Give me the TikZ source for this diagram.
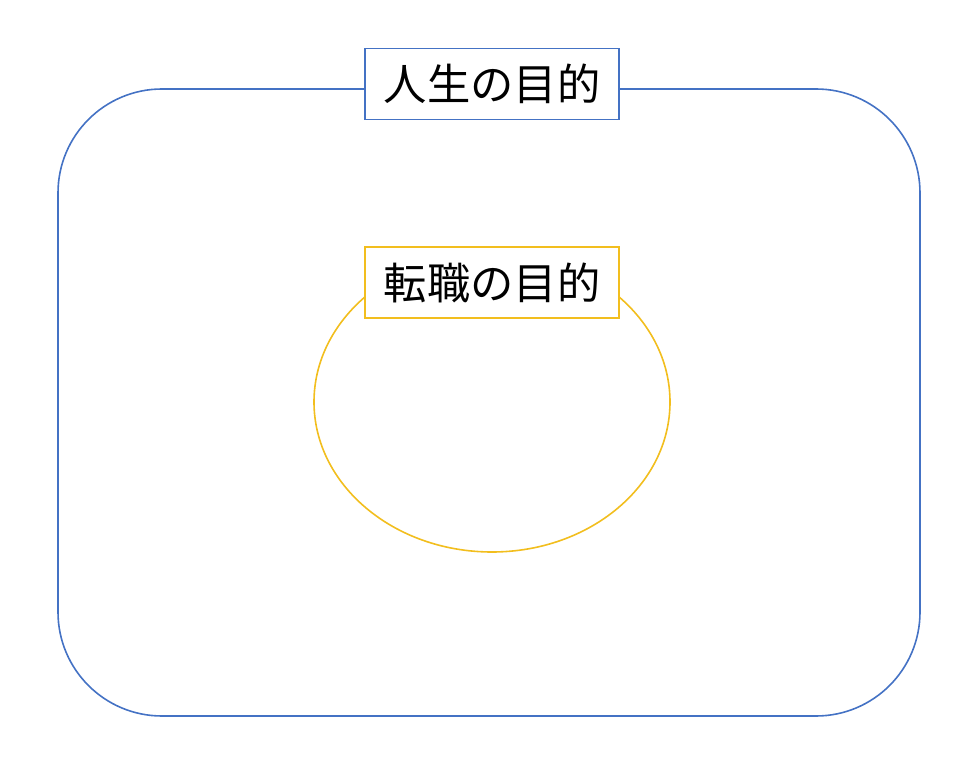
\documentclass[tikz,border=0pt]{standalone}
\usepackage{fontspec}
\newfontfamily\cjk{Noto Sans CJK JP}
\usetikzlibrary{positioning}
\definecolor{lifeblue}{HTML}{4472C4}
\definecolor{jobgold}{HTML}{F2BE1E}

\begin{document}
\begin{tikzpicture}[x=0.75pt, y=-0.75pt,
    labelbox/.style={draw, line width=1.2pt, fill=white, minimum width=190.5pt,
      minimum height=53pt, inner sep=0pt, font=\cjk\fontsize{32.5}{32.5}\selectfont}]
    \useasboundingbox (0,0) rectangle (972,766);
    % outer frame
    \draw[lifeblue, line width=1.2pt, rounded corners=78pt] (58,89) rectangle (920,716);
    \node[labelbox, draw=lifeblue] (life) at (492,84) {人生の目的};
    % inner circle
    \draw[jobgold, line width=1.2pt] (492,402) ellipse [x radius=133.5pt, y radius=112.5pt];
    \node[labelbox, draw=jobgold] (job) at (492,282.5) {転職の目的};
\end{tikzpicture}
\end{document}
